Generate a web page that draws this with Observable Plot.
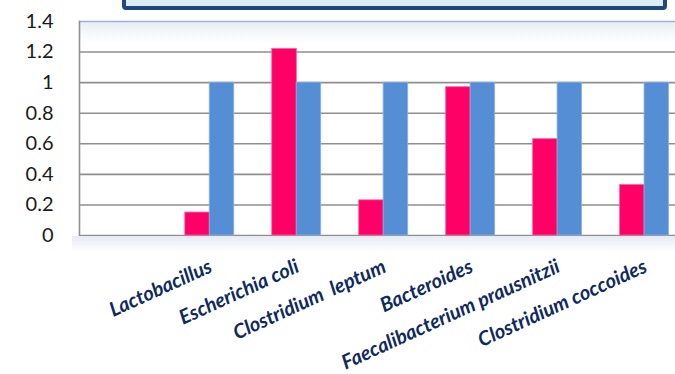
<!DOCTYPE html>
<html>
<head>
<meta charset="utf-8">
<script src="https://cdn.jsdelivr.net/npm/d3@7"></script>
<script src="https://cdn.jsdelivr.net/npm/@observablehq/plot@0.6"></script>
<style>
  html, body { margin: 0; padding: 0; background: #fff; overflow: hidden; }
  #wrap { position: relative; width: 675px; height: 374px; }
  #titlebox { position: absolute; left: 122px; top: -20px; width: 537px; height: 22px;
    background: #DCEEF3; border: 4px solid #1F497D; border-radius: 4px; }
  #shadow { position: absolute; left: 72px; top: 236px; width: 603px; height: 16px;
    background: linear-gradient(#E6EBF3, rgba(255,255,255,0)); }
</style>
</head>
<body>
<div id="wrap">
  <div id="shadow"></div>
  <div id="chart"></div>
  <div id="titlebox"></div>
</div>
<script>
const categories = ["Lactobacillus", "Escherichia coli", "Clostridium  leptum", "Bacteroides", "Faecalibacterium prausnitzii", "Clostridium coccoides"];
const pinkValues = [0.15, 1.22, 0.23, 0.97, 0.63, 0.33];
const blueValues = [1, 1, 1, 1, 1, 1];
const yTicks = [0, 0.2, 0.4, 0.6, 0.8, 1, 1.2, 1.4];

const pinkData = categories.map((c, i) => ({category: c, value: pinkValues[i]}));
const blueData = categories.map((c, i) => ({category: c, value: blueValues[i]}));

const defs = () => {
  const d = d3.create("svg:defs");
  const g = d.append("linearGradient").attr("id", "plotgrad")
    .attr("x1", 0).attr("x2", 0).attr("y1", 0).attr("y2", 1);
  g.append("stop").attr("offset", "0%").attr("stop-color", "#E9EEF5");
  g.append("stop").attr("offset", "10%").attr("stop-color", "#FFFFFF");
  g.append("stop").attr("offset", "100%").attr("stop-color", "#FFFFFF");
  return d.node();
};

const chart = Plot.plot({
  width: 675,
  height: 374,
  marginLeft: 79,
  marginRight: 0,
  marginTop: 21,
  marginBottom: 139,
  style: {fontFamily: "Lato, 'Open Sans', sans-serif", fontSize: "20px", color: "#1a1a1a", background: "transparent"},
  x: {domain: categories, padding: 0, round: false, insetLeft: 86.8, insetRight: -12.6, axis: null},
  y: {domain: [0, 1.4], ticks: yTicks, tickFormat: d => String(d), tickSize: 0, tickPadding: 26, label: null},
  marks: [
    defs,
    Plot.frame({fill: "url(#plotgrad)", insetRight: -4}),
    Plot.ruleY(yTicks.slice(0, -1), {stroke: "#8F8F8F", strokeWidth: 1.6}),
    Plot.ruleY([1.4], {stroke: "#9BB5DE", strokeWidth: 1.6}),
    Plot.barY(pinkData, {x: "category", y: "value", fill: "#FF0066", stroke: "#FF5C9A", strokeWidth: 0.8, insetLeft: 19, insetRight: 43.4}),
    Plot.barY(blueData, {x: "category", y: "value", fill: "#558ED5", stroke: "#8DB3E2", strokeWidth: 0.8, insetLeft: 43.4, insetRight: 19}),
    Plot.frame({anchor: "left", stroke: "#8F8F8F", strokeWidth: 1.6}),
    Plot.text(categories, {x: d => d, frameAnchor: "bottom", dx: 1, dy: 30, rotate: -24.5,
      textAnchor: "end", lineAnchor: "middle", fontSize: 20, fontWeight: "bold", fontStyle: "italic",
      fill: "#0F2A5E"})
  ]
});
document.getElementById("chart").appendChild(chart);
</script>
</body>
</html>
